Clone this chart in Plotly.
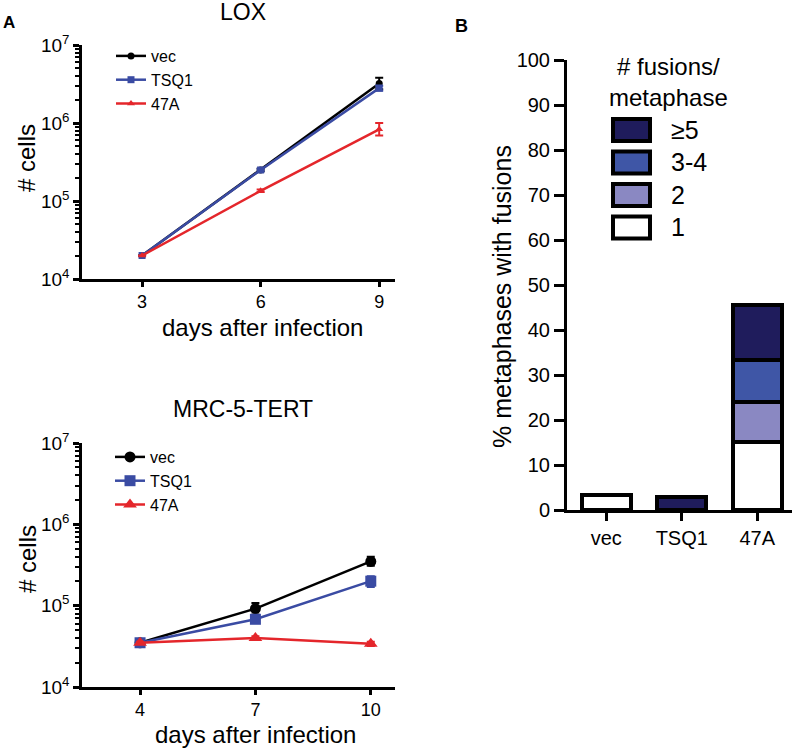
import plotly.graph_objects as go

# ---------------- data ----------------
lox_days = [3, 6, 9]
lox_vec = [2.0e4, 2.5e5, 3.2e6]
lox_vec_up = [0, 1.0e4, 6.0e5]
lox_vec_dn = [0, 1.0e4, 5.0e5]
lox_tsq1 = [2.0e4, 2.5e5, 2.8e6]
lox_tsq1_err = [0, 1.0e4, 2.0e5]
lox_47a = [2.0e4, 1.35e5, 8.3e5]
lox_47a_up = [0, 5.0e3, 1.7e5]
lox_47a_dn = [0, 5.0e3, 1.4e5]

mrc_days = [4, 7, 10]
mrc_vec = [3.5e4, 9.2e4, 3.5e5]
mrc_vec_up = [2.0e3, 1.6e4, 5.0e4]
mrc_vec_dn = [2.0e3, 1.4e4, 4.0e4]
mrc_tsq1 = [3.5e4, 6.8e4, 2.0e5]
mrc_tsq1_err = [1.0e3, 5.0e3, 3.0e4]
mrc_47a = [3.5e4, 4.0e4, 3.4e4]
mrc_47a_err = [1.0e3, 2.0e3, 2.0e3]

series_names = ["vec", "TSQ1", "47A"]

bar_categories = ["vec", "TSQ1", "47A"]
fus_1 = [3.4, None, 15.1]
fus_2 = [None, None, 8.9]
fus_3_4 = [None, None, 9.3]
fus_5plus = [None, 3.0, 12.3]
fusion_labels = ["1", "2", "3-4", "\u22655"]

log_tickvals = [1e4, 1e5, 1e6, 1e7]
log_ticktext = ["10<sup>4</sup>", "10<sup>5</sup>", "10<sup>6</sup>", "10<sup>7</sup>"]

# ---------------- style ----------------
FONT = "Arial, Liberation Sans, Helvetica, sans-serif"
C_VEC = "#000000"
C_TSQ = "#3a4ba3"
C_47A = "#e4262b"
fus_colors = ["#ffffff", "#8a88c2", "#3f56a6", "#1f1c5c"]

W, H = 796, 749


def px_x(p):
    return p / W


def px_y(p):
    return 1 - p / H


fig = go.Figure()


def add_line(x, y, up, dn, name, color, symbol, size, xa, ya, legend, showlegend=True):
    fig.add_trace(go.Scatter(
        x=x, y=y, name=name, mode="lines+markers",
        line=dict(color=color, width=2.5),
        marker=dict(color=color, symbol=symbol, size=size),
        error_y=dict(type="data", array=up, arrayminus=dn, symmetric=False,
                     color=color, thickness=2, width=4),
        xaxis=xa, yaxis=ya, legend=legend, showlegend=showlegend,
    ))


# top (LOX)
add_line(lox_days, lox_vec, lox_vec_up, lox_vec_dn, series_names[0], C_VEC, "circle", 7, "x", "y", "legend")
add_line(lox_days, lox_tsq1, lox_tsq1_err, lox_tsq1_err, series_names[1], C_TSQ, "square", 7, "x", "y", "legend")
add_line(lox_days, lox_47a, lox_47a_up, lox_47a_dn, series_names[2], C_47A, "triangle-up", 7, "x", "y", "legend")

# bottom (MRC-5-TERT)
add_line(mrc_days, mrc_vec, mrc_vec_up, mrc_vec_dn, series_names[0], C_VEC, "circle", 11, "x2", "y2", "legend2")
add_line(mrc_days, mrc_tsq1, mrc_tsq1_err, mrc_tsq1_err, series_names[1], C_TSQ, "square", 11, "x2", "y2", "legend2")
add_line(mrc_days, mrc_47a, mrc_47a_err, mrc_47a_err, series_names[2], C_47A, "triangle-up", 12, "x2", "y2", "legend2")

# bars
for vals, col, lab in zip([fus_1, fus_2, fus_3_4, fus_5plus], fus_colors, fusion_labels):
    fig.add_trace(go.Bar(
        x=bar_categories, y=vals, name=lab,
        marker=dict(color=col, line=dict(color="black", width=4)),
        width=0.65, xaxis="x3", yaxis="y3", showlegend=False,
    ))

# ---------------- axes ----------------
tick_font = dict(family=FONT, size=19, color="black")

log_axis = dict(
    type="log", range=[4, 7], showline=True, linewidth=2.5, linecolor="black",
    ticks="outside", ticklen=6, tickwidth=2.5, tickcolor="black",
    tickvals=log_tickvals, ticktext=log_ticktext, tickfont=tick_font,
    showgrid=False, zeroline=False, automargin=False,
    minor=dict(ticks="outside", ticklen=4, tickwidth=2, tickcolor="black", dtick="D1", showgrid=False),
)

fig.update_layout(
    template="none",
    width=W, height=H,
    margin=dict(l=0, r=0, t=0, b=0, pad=0, autoexpand=False),
    paper_bgcolor="white", plot_bgcolor="white",
    font=dict(family=FONT, color="black"),
    barmode="stack",
    hovermode=False,
    xaxis=dict(
        domain=[px_x(82), px_x(395)], anchor="y", range=[1.48, 9.4],
        showline=True, linewidth=2.5, linecolor="black", automargin=False,
        ticks="outside", ticklen=5, tickwidth=2.5, tickcolor="black",
        tickvals=lox_days, tickfont=dict(family=FONT, size=18, color="black"),
        showgrid=False, zeroline=False,
    ),
    yaxis=dict(domain=[px_y(279), px_y(45)], anchor="x", **log_axis),
    xaxis2=dict(
        domain=[px_x(82), px_x(395)], anchor="y2", range=[2.49, 10.63],
        showline=True, linewidth=2.5, linecolor="black", automargin=False,
        ticks="outside", ticklen=5, tickwidth=2.5, tickcolor="black",
        tickvals=mrc_days, tickfont=dict(family=FONT, size=18, color="black"),
        showgrid=False, zeroline=False,
    ),
    yaxis2=dict(domain=[px_y(687), px_y(443)], anchor="x2", **log_axis),
    xaxis3=dict(
        domain=[px_x(567), px_x(792)], anchor="y3", range=[-0.52, 2.46],
        showline=True, linewidth=3, linecolor="black", automargin=False,
        ticks="outside", ticklen=8, tickwidth=3, tickcolor="black",
        tickfont=dict(family=FONT, size=20, color="black"),
        showgrid=False, zeroline=False, type="category",
    ),
    yaxis3=dict(
        domain=[px_y(510), px_y(60)], anchor="x3", range=[0, 100],
        showline=True, linewidth=3, linecolor="black", automargin=False,
        ticks="outside", ticklen=10, tickwidth=3, tickcolor="black",
        dtick=10, tickfont=dict(family=FONT, size=20, color="black"),
        showgrid=False, zeroline=False,
    ),
    legend=dict(
        x=px_x(111), y=px_y(39), xanchor="left", yanchor="top", traceorder="normal",
        font=dict(family=FONT, size=16, color="black"), bgcolor="rgba(0,0,0,0)",
        tracegroupgap=0, itemwidth=30,
    ),
    legend2=dict(
        x=px_x(110), y=px_y(440), xanchor="left", yanchor="top", traceorder="normal",
        font=dict(family=FONT, size=16, color="black"), bgcolor="rgba(0,0,0,0)",
        tracegroupgap=0, itemwidth=30,
    ),
)

# titles, axis titles & panel labels
annotations = [
    dict(text="LOX", x=px_x(243), y=px_y(12), font=dict(family=FONT, size=23)),
    dict(text="MRC-5-TERT", x=px_x(243), y=px_y(409), font=dict(family=FONT, size=23)),
    dict(text="days after infection", x=px_x(262), y=px_y(327), font=dict(family=FONT, size=24)),
    dict(text="days after infection", x=px_x(255), y=px_y(734), font=dict(family=FONT, size=24)),
    dict(text="# cells", x=px_x(27), y=px_y(158), textangle=-90, font=dict(family=FONT, size=24)),
    dict(text="# cells", x=px_x(27), y=px_y(559), textangle=-90, font=dict(family=FONT, size=24)),
    dict(text="% metaphases with fusions", x=px_x(502), y=px_y(297), textangle=-90,
         font=dict(family=FONT, size=25)),
    dict(text="<b>A</b>", x=px_x(9), y=px_y(22), font=dict(family=FONT, size=17)),
    dict(text="<b>B</b>", x=px_x(461), y=px_y(26), font=dict(family=FONT, size=18)),
    dict(text="# fusions/<br>metaphase", x=px_x(668), y=px_y(82), font=dict(family=FONT, size=24)),
]
for a in annotations:
    a.update(xref="paper", yref="paper", showarrow=False, xanchor="center", yanchor="middle")
    fig.add_annotation(**a)

# manual bar legend (top item = >=5)
shapes = []
row_top = 119
row_step = 32.5
for i, (lab, col) in enumerate(reversed(list(zip(fusion_labels, fus_colors)))):
    y0 = row_top + i * row_step
    shapes.append(dict(type="rect", xref="paper", yref="paper",
                       x0=px_x(613), x1=px_x(650), y0=px_y(y0 + 22), y1=px_y(y0),
                       fillcolor=col, line=dict(color="black", width=4)))
    fig.add_annotation(text=lab, xref="paper", yref="paper", x=px_x(669), y=px_y(y0 + 11),
                       showarrow=False, xanchor="left", yanchor="middle",
                       font=dict(family=FONT, size=25, color="black"))
fig.update_layout(shapes=shapes)

fig.write_html(
    "out.html",
    config={"displayModeBar": False},
    post_script="document.body.style.margin='0';document.body.style.overflow='hidden';",
)
